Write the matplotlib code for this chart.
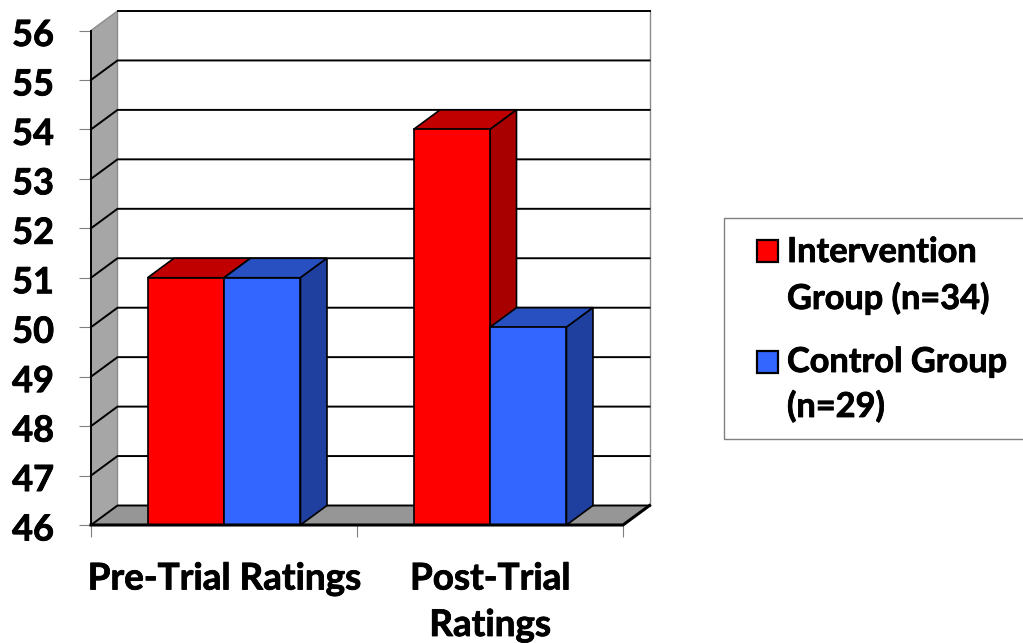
import matplotlib
matplotlib.use('Agg')
import matplotlib.pyplot as plt
import matplotlib.patheffects as pe
from matplotlib.patches import Polygon, Rectangle
from matplotlib.transforms import ScaledTranslation

plt.rcParams['font.family'] = ['Lato', 'DejaVu Sans']
plt.rcParams['font.weight'] = 'bold'

# values
categories = ['Pre-Trial Ratings', 'Post-Trial\nRatings']
intervention = [51, 54]
control = [51, 50]
y_ticks = list(range(46, 57))
legend_lines = [['Intervention', 'Group (n=34)'], ['Control Group', '(n=29)']]

W, H = 1023, 643
fig = plt.figure(figsize=(W / 100, H / 100), dpi=100)
ax = fig.add_axes([91 / W, (H - 525) / H, 532 / W, 494.5 / H])
ax.set_xlim(-0.5, 1.5)
ax.set_ylim(46, 56)

# depth of the fake 3d box, in data units
dx = 26.5 / 266
dy = 19.5 / 49.45
bar_w = 0.2875
x0, x1, y0, y1 = -0.5, 1.5, 46, 56

# the original font is a bit heavier than Lato Bold
heavy = [pe.withStroke(linewidth=0.6, foreground='black')]


def poly(points, color, edge='none', lw=0, z=1):
    ax.add_patch(Polygon(points, closed=True, facecolor=color, edgecolor=edge,
                         linewidth=lw, clip_on=False, zorder=z, joinstyle='miter'))


# walls and floor
poly([(x0, y0), (x0 + dx, y0 + dy), (x0 + dx, y1 + dy), (x0, y1)], '#a6a6a6')
poly([(x0, y0), (x0 + dx, y0 + dy), (x1 + dx, y0 + dy), (x1, y0)], '#969696')
ax.plot([x0, x0 + dx, x0 + dx], [y1, y1 + dy, y0 + dy], color='#8c8c8c', lw=1, clip_on=False, zorder=2)
ax.plot([x1 + dx, x1 + dx], [y1 + dy, y0 + dy], color='#8c8c8c', lw=1, clip_on=False, zorder=2)

# gridlines run across the left wall and the back wall
for v in y_ticks:
    if v == y1:
        ax.plot([x0 + dx, x1 + dx], [v + dy, v + dy], color='black', lw=1.4, clip_on=False, zorder=2)
    else:
        ax.plot([x0, x0 + dx, x1 + dx], [v, v + dy, v + dy], color='black', lw=1.4, clip_on=False, zorder=2)

# floor edges drawn heavy
ax.plot([x0, x1, x1 + dx], [y0, y0, y0 + dy], color='black', lw=2.2, clip_on=False, zorder=6,
        solid_joinstyle='miter')
ax.plot([x0, x0], [y0, y1], color='black', lw=1.4, clip_on=False, zorder=6)


def draw_bar(left, value, front, top, side, z):
    ax.bar(left, value - y0, bar_w, bottom=y0, align='edge', color=front, edgecolor='black',
           linewidth=1.2, zorder=z + 0.2)
    right = left + bar_w
    poly([(left, value), (left + dx, value + dy), (right + dx, value + dy), (right, value)],
         top, 'black', 1.2, z)
    poly([(right, y0), (right + dx, y0 + dy), (right + dx, value + dy), (right, value)],
         side, 'black', 1.2, z)


for i in range(len(categories)):
    draw_bar(i - bar_w, intervention[i], '#ff0000', '#c00000', '#a80000', 3)
    draw_bar(i, control[i], '#3366ff', '#2850c0', '#2040a0', 4)

# axes
for s in ax.spines.values():
    s.set_visible(False)
ax.patch.set_visible(False)
ax.set_yticks(y_ticks)
ax.tick_params(axis='y', length=8.6, width=0.8, color='#808080', pad=18, labelsize=26)
ax.set_xticks([-0.5, 0.5, 1.5])
ax.set_xticklabels([])
ax.set_xticks([0, 1], minor=True)
ax.set_xticklabels(categories, minor=True, fontsize=26.5, linespacing=1.5)
ax.tick_params(axis='x', which='major', length=8.6, width=0.8, color='#808080')
ax.tick_params(axis='x', which='minor', length=0, pad=27)

# y labels sit about 2 px under their ticks
shift = ScaledTranslation(0, -2 / 100, fig.dpi_scale_trans)
for lab in ax.get_yticklabels():
    lab.set_transform(lab.get_transform() + shift)
    lab.set_path_effects(heavy)
for lab in ax.get_xticklabels(minor=True):
    lab.set_path_effects(heavy)

# legend box, off the right edge like the original


def fx(px):
    return px / W


def fy(py):
    return (H - py) / H


fig.add_artist(Rectangle((fx(724), fy(438.5)), fx(330), 220 / H, facecolor='white',
                         edgecolor='#808080', linewidth=1, transform=fig.transFigure))
swatches = [('#ff0000', 240), ('#3366ff', 350.5)]
baselines = [[262, 309], [372, 417]]
for (color, top), lines, bases in zip(swatches, legend_lines, baselines):
    fig.add_artist(Rectangle((fx(757), fy(top + 22)), fx(21), 22 / H, facecolor=color,
                             edgecolor='black', linewidth=1.6, transform=fig.transFigure))
    for line, b in zip(lines, bases):
        fig.text(fx(787), fy(b), line, fontsize=24.7, fontweight='bold', va='baseline', ha='left',
                 path_effects=heavy)

fig.savefig('out.png', dpi=100)
